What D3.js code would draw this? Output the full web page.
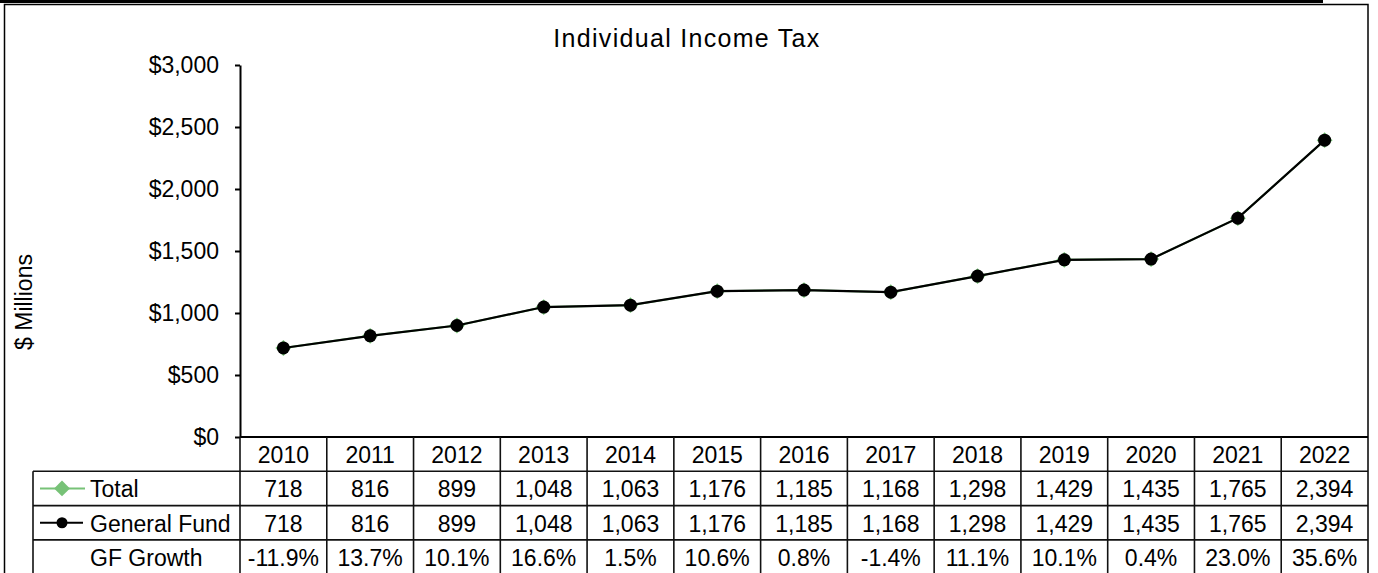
<!DOCTYPE html>
<html>
<head>
<meta charset="utf-8">
<script src="https://cdn.jsdelivr.net/npm/d3@7"></script>
<style>
  body { margin: 0; background: #fff; }
  svg text { font-family: "Liberation Sans", Arial, sans-serif; fill: #000; }
</style>
</head>
<body>
<svg id="chart" width="1378" height="573"></svg>
<script>
// data
var years = ['2010','2011','2012','2013','2014','2015','2016','2017','2018','2019','2020','2021','2022'];
var total = [718, 816, 899, 1048, 1063, 1176, 1185, 1168, 1298, 1429, 1435, 1765, 2394];
var generalFund = [718, 816, 899, 1048, 1063, 1176, 1185, 1168, 1298, 1429, 1435, 1765, 2394];
var gfGrowth = [-11.9, 13.7, 10.1, 16.6, 1.5, 10.6, 0.8, -1.4, 11.1, 10.1, 0.4, 23.0, 35.6];
var yTicks = [0, 500, 1000, 1500, 2000, 2500, 3000];

var svg = d3.select('#chart');
const width = +svg.attr('width');
const height = +svg.attr('height');
const plot = {left: 240, right: 1368, top: 65, bottom: 437};
const tableLeft = 33;
const rowH = 34.3;
const fontSize = 23;
const green = '#77c277';

var x = d3.scaleBand()
    .domain(years)
    .range([plot.left, plot.right])
    .paddingInner(0).paddingOuter(0);
var y = d3.scaleLinear()
    .domain([0, 3000])
    .range([plot.bottom, plot.top]);

// frame
svg.append('rect')
    .attr('x', 0).attr('y', 0).attr('width', 1323).attr('height', 3)
    .attr('fill', '#000');
svg.append('rect')
    .attr('x', 4.5).attr('y', 4.5).attr('width', plot.right - 4.5).attr('height', height)
    .attr('fill', 'none').attr('stroke', '#000').attr('stroke-width', 1.5);

// title
svg.append('text')
    .attr('x', 687).attr('y', 47)
    .attr('text-anchor', 'middle')
    .style('font-size', '25px')
    .style('letter-spacing', '1.3px')
    .text('Individual Income Tax');

// y axis
var yAxis = svg.append('g')
    .attr('transform', `translate(${plot.left},0)`)
    .call(d3.axisLeft(y)
        .tickValues(yTicks)
        .tickSize(5)
        .tickSizeOuter(0)
        .tickPadding(16)
        .tickFormat(d => '$' + d3.format(',')(d)));
yAxis.selectAll('path, line').attr('stroke', '#000').attr('stroke-width', 2);
yAxis.selectAll('text')
    .style('font-size', fontSize + 'px')
    .style('font-family', '"Liberation Sans", Arial, sans-serif');

svg.append('text')
    .attr('transform', 'translate(32,302) rotate(-90)')
    .attr('text-anchor', 'middle')
    .style('font-size', fontSize + 'px')
    .text('$ Millions');

// lines
var line = d3.line()
    .x((d, i) => x(years[i]) + x.bandwidth() / 2)
    .y(d => y(d));

svg.append('path')
    .datum(total)
    .attr('d', line)
    .attr('fill', 'none').attr('stroke', green).attr('stroke-width', 2);
svg.append('g').selectAll('path')
    .data(total)
    .enter().append('path')
    .attr('transform', (d, i) => `translate(${x(years[i]) + x.bandwidth() / 2},${y(d)})`)
    .attr('d', d3.symbol(d3.symbolDiamond2, 160))
    .attr('fill', green);

svg.append('path')
    .datum(generalFund)
    .attr('d', line)
    .attr('fill', 'none').attr('stroke', '#000').attr('stroke-width', 2.2);
svg.append('g').selectAll('circle')
    .data(generalFund)
    .enter().append('circle')
    .attr('cx', (d, i) => x(years[i]) + x.bandwidth() / 2)
    .attr('cy', d => y(d))
    .attr('r', 6.5)
    .attr('fill', '#000');

// data table
var table = svg.append('g');
var rowTops = [0, 1, 2, 3].map(i => plot.bottom + i * rowH);

// x axis / table top
table.append('line')
    .attr('x1', plot.left).attr('x2', plot.right)
    .attr('y1', plot.bottom).attr('y2', plot.bottom)
    .attr('stroke', '#000').attr('stroke-width', 2);
table.selectAll('.hrow')
    .data(rowTops.slice(1))
    .enter().append('line')
    .attr('x1', tableLeft).attr('x2', plot.right)
    .attr('y1', d => d).attr('y2', d => d)
    .attr('stroke', '#111').attr('stroke-width', 1.6);
table.selectAll('.vcol')
    .data(years.slice(1))
    .enter().append('line')
    .attr('x1', d => x(d)).attr('x2', d => x(d))
    .attr('y1', plot.bottom).attr('y2', height)
    .attr('stroke', '#111').attr('stroke-width', 1.6);
table.append('line')
    .attr('x1', plot.left).attr('x2', plot.left)
    .attr('y1', plot.bottom).attr('y2', height)
    .attr('stroke', '#111').attr('stroke-width', 1.6);
table.append('line')
    .attr('x1', tableLeft).attr('x2', tableLeft)
    .attr('y1', rowTops[1]).attr('y2', height)
    .attr('stroke', '#111').attr('stroke-width', 1.6);

var rows = [
    years,
    total.map(d3.format(',')),
    generalFund.map(d3.format(',')),
    gfGrowth.map(d => d.toFixed(1) + '%')
];
rows.forEach(function(vals, r) {
    table.append('g').selectAll('text')
        .data(vals)
        .enter().append('text')
        .attr('x', (d, i) => x(years[i]) + x.bandwidth() / 2)
        .attr('y', rowTops[r] + 26)
        .attr('text-anchor', 'middle')
        .style('font-size', fontSize + 'px')
        .text(d => d);
});

// row labels with legend keys
var labels = ['Total', 'General Fund', 'GF Growth'];
labels.forEach(function(lab, i) {
    table.append('text')
        .attr('x', 90).attr('y', rowTops[i + 1] + 26)
        .style('font-size', fontSize + 'px')
        .text(lab);
});
var kTotal = rowTops[1] + rowH / 2;
table.append('line')
    .attr('x1', 40).attr('x2', 85).attr('y1', kTotal).attr('y2', kTotal)
    .attr('stroke', green).attr('stroke-width', 2);
table.append('path')
    .attr('transform', `translate(62,${kTotal})`)
    .attr('d', d3.symbol(d3.symbolDiamond2, 160))
    .attr('fill', green);
var kGF = rowTops[2] + rowH / 2;
table.append('line')
    .attr('x1', 40).attr('x2', 83).attr('y1', kGF).attr('y2', kGF)
    .attr('stroke', '#000').attr('stroke-width', 2.2);
table.append('circle')
    .attr('cx', 62).attr('cy', kGF).attr('r', 5.5)
    .attr('fill', '#000');
</script>
</body>
</html>
